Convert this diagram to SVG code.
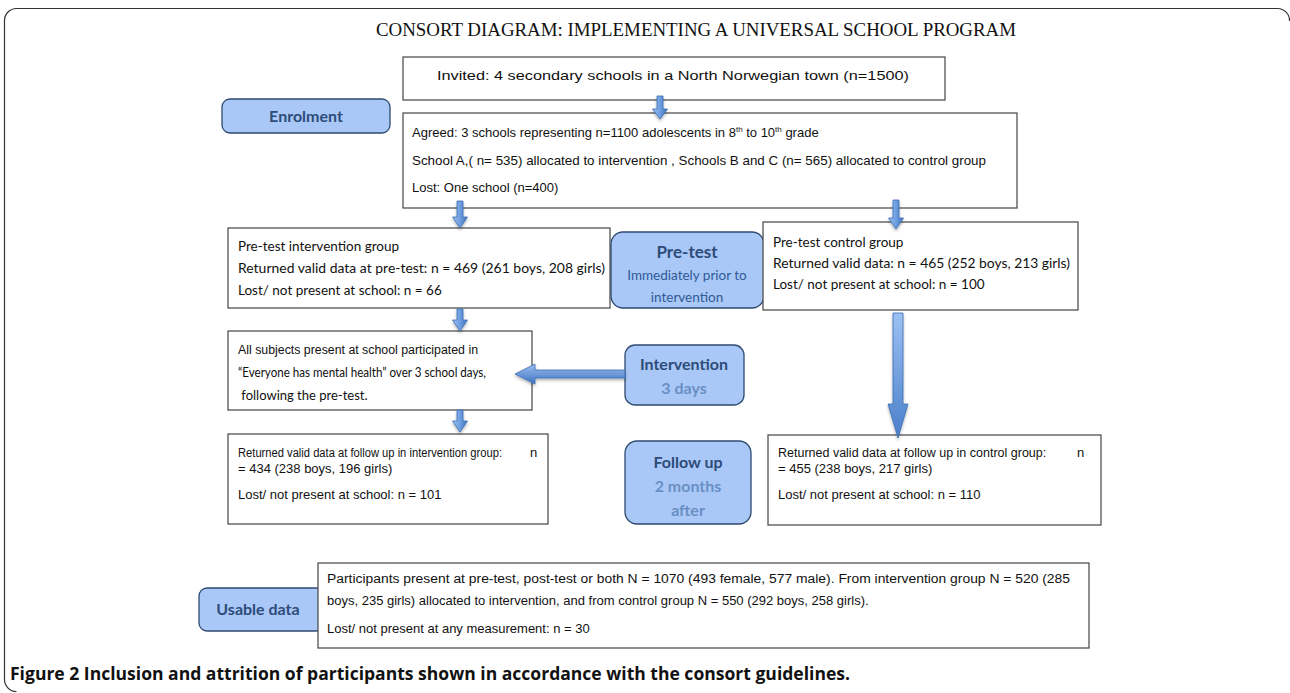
<svg xmlns="http://www.w3.org/2000/svg" width="1290" height="693" viewBox="0 0 1290 693">
<defs>
<linearGradient id="gv" x1="0" y1="0" x2="1" y2="0">
<stop offset="0" stop-color="#9cc0f0"/><stop offset="0.5" stop-color="#6f9ee0"/><stop offset="1" stop-color="#3f74c2"/>
</linearGradient>
<linearGradient id="gbig" x1="0" y1="0" x2="0" y2="1">
<stop offset="0" stop-color="#9dc1f3"/><stop offset="1" stop-color="#4a7fca"/>
</linearGradient>
<linearGradient id="gh" x1="0" y1="0" x2="0" y2="1">
<stop offset="0" stop-color="#9cc0f0"/><stop offset="1" stop-color="#3f74c2"/>
</linearGradient>
<filter id="sh" x="-50%" y="-50%" width="200%" height="200%">
<feDropShadow dx="0" dy="2" stdDeviation="1.5" flood-color="#000" flood-opacity="0.3"/>
</filter>
</defs>
<style>
.box{fill:#fff;stroke:#444;stroke-width:1.2}
.lab{fill:#a9c8f7;stroke:#2f4a70;stroke-width:1.3}
.ar{stroke:#3a6db5;stroke-width:0.8;filter:url(#sh)}
.sans{font-family:"Liberation Sans",Arial,sans-serif;font-size:13px;fill:#111}
.cal{font-family:Lato,"Open Sans",sans-serif;font-size:13.5px;fill:#111}
.lt{font-family:Lato,"Open Sans",sans-serif;font-weight:700;font-size:16px;fill:#2d4c78;text-anchor:middle}
.ls{font-family:Lato,"Open Sans",sans-serif;font-size:13.5px;fill:#2f5a96;text-anchor:middle}
.ls2{font-family:Lato,"Open Sans",sans-serif;font-weight:700;font-size:16px;fill:#6a8fc5;text-anchor:middle}
</style>
<rect width="1290" height="693" fill="#fff"/>
<path d="M1289.5,21 A12,12 0 0 0 1277.5,8.5 L16.5,8.5 A12,12 0 0 0 4.5,20.5 L4.5,679 A12,12 0 0 0 16.5,691.5" fill="none" stroke="#333" stroke-width="1.2"/>
<text x="696" y="36" text-anchor="middle" font-family="'Liberation Serif','Times New Roman',serif" font-size="18" fill="#111" textLength="640" lengthAdjust="spacingAndGlyphs">CONSORT DIAGRAM: IMPLEMENTING A UNIVERSAL SCHOOL PROGRAM</text>

<g id="invited">
<rect class="box" x="403" y="57" width="542" height="43"/>
<text class="sans" x="437" y="80" textLength="472" lengthAdjust="spacingAndGlyphs">Invited: 4 secondary schools in a North Norwegian town (n=1500)</text>
</g>

<g id="enrolment">
<rect class="lab" x="222" y="99" width="168" height="34" rx="8"/>
<text class="lt" x="306" y="122">Enrolment</text>
</g>

<g id="agreed">
<rect class="box" x="403" y="113" width="614" height="95"/>
<text class="sans" x="412" y="137">Agreed: 3 schools representing n=1100 adolescents in 8<tspan font-size="8" dy="-5">th</tspan><tspan dy="5"> to 10</tspan><tspan font-size="8" dy="-5">th</tspan><tspan dy="5"> grade</tspan></text>
<text class="sans" x="412" y="165" textLength="574" lengthAdjust="spacingAndGlyphs">School A,( n= 535) allocated to intervention , Schools B and C (n= 565) allocated to control group</text>
<text class="sans" x="412" y="192">Lost: One school (n=400)</text>
</g>

<g id="pretest-intervention">
<rect class="box" x="228" y="228" width="382" height="80"/>
<text class="cal" x="238" y="251">Pre-test intervention group</text>
<text class="cal" x="238" y="273" textLength="367" lengthAdjust="spacingAndGlyphs">Returned valid data at pre-test: n = 469 (261 boys, 208 girls)</text>
<text class="cal" x="238" y="295">Lost/ not present at school: n = 66</text>
</g>

<g id="pretest-label">
<rect class="lab" x="611" y="232" width="153" height="76" rx="12"/>
<text class="lt" x="687" y="258" style="font-size:17px">Pre-test</text>
<text class="ls" x="687" y="280">Immediately prior to</text>
<text class="ls" x="687" y="302">intervention</text>
</g>

<g id="pretest-control">
<rect class="box" x="763" y="222" width="315" height="88"/>
<text class="cal" x="773" y="247">Pre-test control group</text>
<text class="cal" x="773" y="268" textLength="297" lengthAdjust="spacingAndGlyphs">Returned valid data: n = 465 (252 boys, 213 girls)</text>
<text class="cal" x="773" y="289">Lost/ not present at school: n = 100</text>
</g>

<g id="intervention-box">
<rect class="box" x="228" y="331" width="304" height="79"/>
<text class="sans" x="238" y="354" style="font-size:12.5px" textLength="240" lengthAdjust="spacingAndGlyphs">All subjects present at school participated in</text>
<text class="cal" x="238" y="377" style="font-size:12.5px" textLength="248" lengthAdjust="spacingAndGlyphs">“Everyone has mental health” over 3 school days,</text>
<text class="cal" x="238" y="400" style="font-size:13px" xml:space="preserve"> following the pre-test.</text>
</g>

<g id="intervention-label">
<rect class="lab" x="625" y="345" width="119" height="60" rx="10"/>
<text class="lt" x="684" y="370">Intervention</text>
<text class="ls2" x="684" y="394">3 days</text>
</g>

<g id="followup-intervention">
<rect class="box" x="228" y="434" width="320" height="90"/>
<text class="sans" x="238" y="457" style="font-size:12px" textLength="264" lengthAdjust="spacingAndGlyphs">Returned valid data at follow up in intervention group:</text>
<text class="sans" x="530" y="457">n</text>
<text class="sans" x="238" y="473">= 434 (238 boys, 196 girls)</text>
<text class="sans" x="238" y="499">Lost/ not present at school: n = 101</text>
</g>

<g id="followup-label">
<rect class="lab" x="625" y="441" width="126" height="83" rx="12"/>
<text class="lt" x="688" y="468">Follow up</text>
<text class="ls2" x="688" y="492">2 months</text>
<text class="ls2" x="688" y="516">after</text>
</g>

<g id="followup-control">
<rect class="box" x="768" y="435" width="333" height="90"/>
<text class="sans" x="778" y="457" style="font-size:12.5px">Returned valid data at follow up in control group:</text>
<text class="sans" x="1077" y="457">n</text>
<text class="sans" x="778" y="473">= 455 (238 boys, 217 girls)</text>
<text class="sans" x="778" y="499">Lost/ not present at school: n = 110</text>
</g>

<g id="usable-label">
<rect class="lab" x="199" y="588" width="125" height="43" rx="8"/>
<text class="lt" x="258" y="615">Usable data</text>
</g>

<g id="usable">
<rect class="box" x="318" y="563" width="771" height="85"/>
<text class="sans" x="327" y="583" style="font-size:12.5px" textLength="743" lengthAdjust="spacingAndGlyphs">Participants present at pre-test, post-test or both N = 1070 (493 female, 577 male). From intervention group N = 520 (285</text>
<text class="sans" x="327" y="605">boys, 235 girls) allocated to intervention, and from control group N = 550 (292 boys, 258 girls).</text>
<text class="sans" x="327" y="633">Lost/ not present at any measurement: n = 30</text>
</g>

<g id="connectors">
<polygon class="ar" fill="url(#gv)" points="657,96 663,96 663,109 667.5,109 660,119 652.5,109 657,109"/>
<polygon class="ar" fill="url(#gv)" points="457,201 463,201 463,217 467.5,217 460,228 452.5,217 457,217"/>
<polygon class="ar" fill="url(#gv)" points="893,200 899,200 899,218 903.5,218 896,229 888.5,218 893,218"/>
<polygon class="ar" fill="url(#gv)" points="457,309 463,309 463,320 467.5,320 460,331 452.5,320 457,320"/>
<polygon class="ar" fill="url(#gv)" points="457,410 463,410 463,421 467.5,421 460,432 452.5,421 457,421"/>
<polygon class="ar" fill="url(#gbig)" points="893,313 903,313 903,404 908,404 898,438 888,404 893,404"/>
<polygon class="ar" fill="url(#gh)" points="625,370 625,378 535,378 535,384 515,374 535,364 535,370"/>
</g>

<text x="10" y="680" font-family="'Open Sans',Lato,sans-serif" font-weight="700" font-size="17" fill="#111" textLength="840" lengthAdjust="spacingAndGlyphs">Figure 2 Inclusion and attrition of participants shown in accordance with the consort guidelines.</text>
</svg>
